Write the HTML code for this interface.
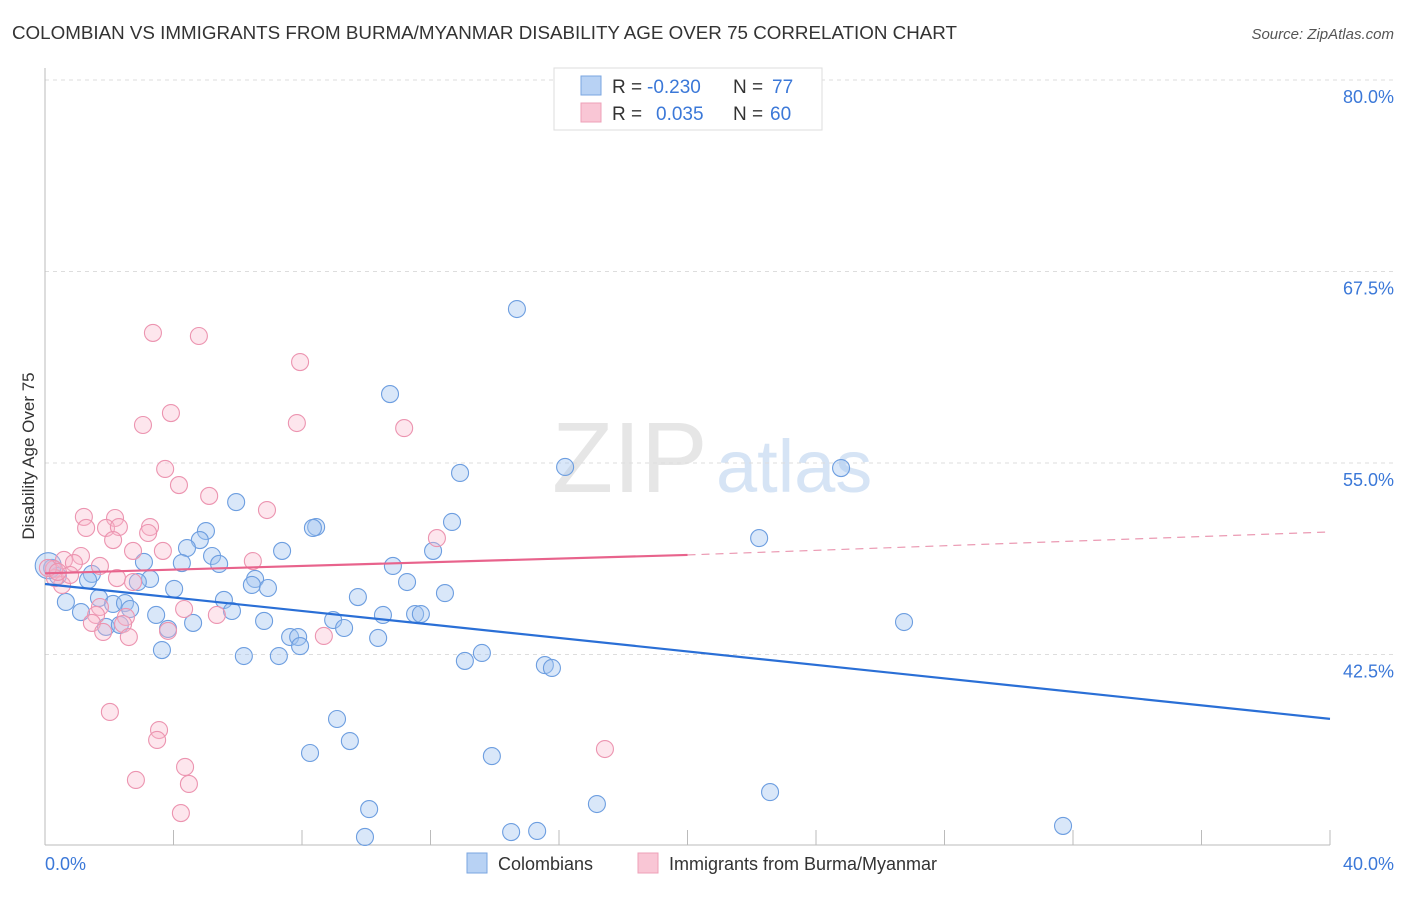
<!DOCTYPE html>
<html><head><meta charset="utf-8"><style>
body{margin:0;background:#fff;font-family:"Liberation Sans",sans-serif;}
svg text{font-family:"Liberation Sans",sans-serif;}
</style></head><body>
<svg id="chart" width="1406" height="892">
<text x="12" y="39" font-size="18" fill="#333" textLength="945" lengthAdjust="spacingAndGlyphs">COLOMBIAN VS IMMIGRANTS FROM BURMA/MYANMAR DISABILITY AGE OVER 75 CORRELATION CHART</text>
<text x="1394" y="39" font-size="15" fill="#555" text-anchor="end" font-style="italic">Source: ZipAtlas.com</text>
<text x="552" y="492" font-size="100" fill="#e6e6e6" font-family="Liberation Serif">ZIP</text>
<text x="716" y="492" font-size="74" fill="#d6e4f5">atlas</text>
<g id="grid"></g>
<g id="pts"></g>
<g id="lines"></g>
<text transform="translate(34,456) rotate(-90)" font-size="17" fill="#333" text-anchor="middle">Disability Age Over 75</text>
<text x="45" y="870" font-size="18" fill="#3b78d8">0.0%</text>
<text x="1394" y="870" font-size="18" fill="#3b78d8" text-anchor="end">40.0%</text>
<g>
<rect x="554" y="68" width="268" height="62" fill="#fff" stroke="#ddd"/>
<rect x="581" y="76" width="20" height="19" fill="#b8d2f4" stroke="#7aa6e0"/>
<rect x="581" y="103" width="20" height="19" fill="#f9c6d5" stroke="#eea0b8"/>
<text y="93" font-size="19" fill="#333"><tspan x="612">R =</tspan><tspan x="647" fill="#3b78d8">-0.230</tspan><tspan x="733">N =</tspan><tspan x="772" fill="#3b78d8">77</tspan></text>
<text y="120" font-size="19" fill="#333"><tspan x="612">R =</tspan><tspan x="656" fill="#3b78d8">0.035</tspan><tspan x="733">N =</tspan><tspan x="770" fill="#3b78d8">60</tspan></text>
</g>
<g>
<rect x="467" y="853" width="20" height="20" fill="#b8d2f4" stroke="#7aa6e0"/>
<text x="498" y="870" font-size="18" fill="#333">Colombians</text>
<rect x="638" y="853" width="20" height="20" fill="#f9c6d5" stroke="#eea0b8"/>
<text x="669" y="870" font-size="18" fill="#333">Immigrants from Burma/Myanmar</text>
</g>
</svg>
<script>
const yTicks=[80,67.5,55,42.5];
const xTickVals=[0,4,8,12,16,20,24,28,32,36,40];
const blueX=[14.69,10.74,12.92,16.19,24.78,12.67,8.44,8.34,5.95,5.01,4.82,4.42,5.20,3.08,4.26,5.42,7.38,12.08,10.83,22.23,3.27,4.02,1.46,0.22,0.40,1.34,2.89,6.54,6.44,6.94,11.27,12.45,9.74,1.68,0.65,2.12,2.49,2.65,5.57,5.82,3.46,1.12,4.61,6.82,8.97,9.31,10.52,11.52,11.70,26.74,1.90,2.33,3.83,7.63,7.88,7.94,10.37,3.64,6.19,7.28,13.07,13.60,15.56,15.78,9.09,9.49,8.25,13.91,22.57,17.18,10.09,9.96,14.51,15.32,31.69,0.1];
const blueY=[65.05,59.50,54.35,54.74,54.67,51.15,50.82,50.76,52.45,50.56,49.97,49.45,48.93,48.54,48.47,48.41,49.26,49.26,48.28,50.10,47.43,46.78,47.76,48.15,47.63,47.36,47.23,47.43,47.04,46.84,47.23,46.51,46.25,46.19,45.93,45.80,45.86,45.47,46.06,45.34,45.08,45.27,44.56,44.69,44.75,44.23,45.08,45.14,45.14,44.62,44.30,44.43,44.17,43.64,43.64,43.05,43.58,42.79,42.40,42.40,42.08,42.60,41.81,41.62,38.29,36.85,36.07,35.87,33.52,32.74,32.41,30.59,30.91,30.98,31.31,48.3];
const pinkX=[3.36,4.79,7.94,3.05,3.92,7.84,11.18,3.74,4.17,5.11,6.91,1.21,2.18,1.28,1.90,2.30,3.27,3.21,2.12,12.20,3.67,2.74,1.12,0.59,0.90,1.71,0.28,6.47,2.24,2.74,0.53,4.33,1.71,1.59,2.52,1.46,2.43,1.81,2.61,5.35,3.83,8.68,2.02,3.55,3.49,4.36,4.48,2.83,4.23,17.43,0.31,0.78,0.09,0.40];
const pinkY=[63.49,63.29,61.59,57.48,58.26,57.61,57.28,54.61,53.56,52.85,51.93,51.48,51.41,50.76,50.76,50.82,50.82,50.43,49.97,50.10,49.26,49.26,48.93,48.67,48.47,48.28,48.08,48.60,47.49,47.23,47.04,45.47,45.60,45.08,44.95,44.56,44.49,43.97,43.64,45.08,44.04,43.71,38.75,37.57,36.92,35.16,34.05,34.31,32.15,36.33,47.49,47.69,48.15,47.89];
const blueFitX=[0,40];
const blueFitY=[47.1,38.3];
const pinkFitX=[0,20,40];
const pinkFitY=[47.8,49.0,50.5];

const NS="http://www.w3.org/2000/svg";
const sx=v=>45+v*32.125;
const sy=v=>80+(80-v)*15.32;
function mk(tag,attrs,parent){const e=document.createElementNS(NS,tag);for(const k in attrs)e.setAttribute(k,attrs[k]);parent.appendChild(e);return e;}
const grid=document.getElementById('grid');
yTicks.forEach(t=>{
  const l=mk('line',{x1:45,x2:1394,y1:sy(t),y2:sy(t),stroke:'#ddd','stroke-dasharray':'4,4'},grid);
  
  
  const tx=mk('text',{x:1394,y:sy(t)+23,'font-size':18,fill:'#3b78d8','text-anchor':'end'},grid);
  tx.textContent=t.toFixed(1)+'%';
  
  
});
const ax=mk('line',{x1:45,x2:45,y1:68,y2:845,stroke:'#bbb'},grid);


const bx=mk('line',{x1:45,x2:1330,y1:845,y2:845,stroke:'#bbb'},grid);


xTickVals.forEach(t=>{
  const l=mk('line',{x1:sx(t),x2:sx(t),y1:830,y2:845,stroke:'#bbb'},grid);
  
  
});
const pts=document.getElementById('pts');
blueX.forEach((x,i)=>{
  const c=mk('circle',{cx:sx(x),cy:sy(blueY[i]),r:i==blueX.length-1?13:8.5,fill:'rgba(160,196,240,0.4)',stroke:'#6d9ee0','stroke-width':1.1},pts);
  
  
});
pinkX.forEach((x,i)=>{
  const c=mk('circle',{cx:sx(x),cy:sy(pinkY[i]),r:8.5,fill:'rgba(248,182,202,0.35)',stroke:'#ec94b0','stroke-width':1.1},pts);
  
  
});
const lines=document.getElementById('lines');
const bl=mk('line',{x1:sx(blueFitX[0]),y1:sy(blueFitY[0]),x2:sx(blueFitX[1]),y2:sy(blueFitY[1]),stroke:'#2a6fd6','stroke-width':2.2},lines);


const pl=mk('line',{x1:sx(pinkFitX[0]),y1:sy(pinkFitY[0]),x2:sx(pinkFitX[1]),y2:sy(pinkFitY[1]),stroke:'#e8638c','stroke-width':2.2},lines);


const pd=mk('line',{x1:sx(pinkFitX[1]),y1:sy(pinkFitY[1]),x2:sx(pinkFitX[2]),y2:sy(pinkFitY[2]),stroke:'#eb9ab3','stroke-width':1.2,'stroke-dasharray':'8,6'},lines);


</script>
</body></html>
